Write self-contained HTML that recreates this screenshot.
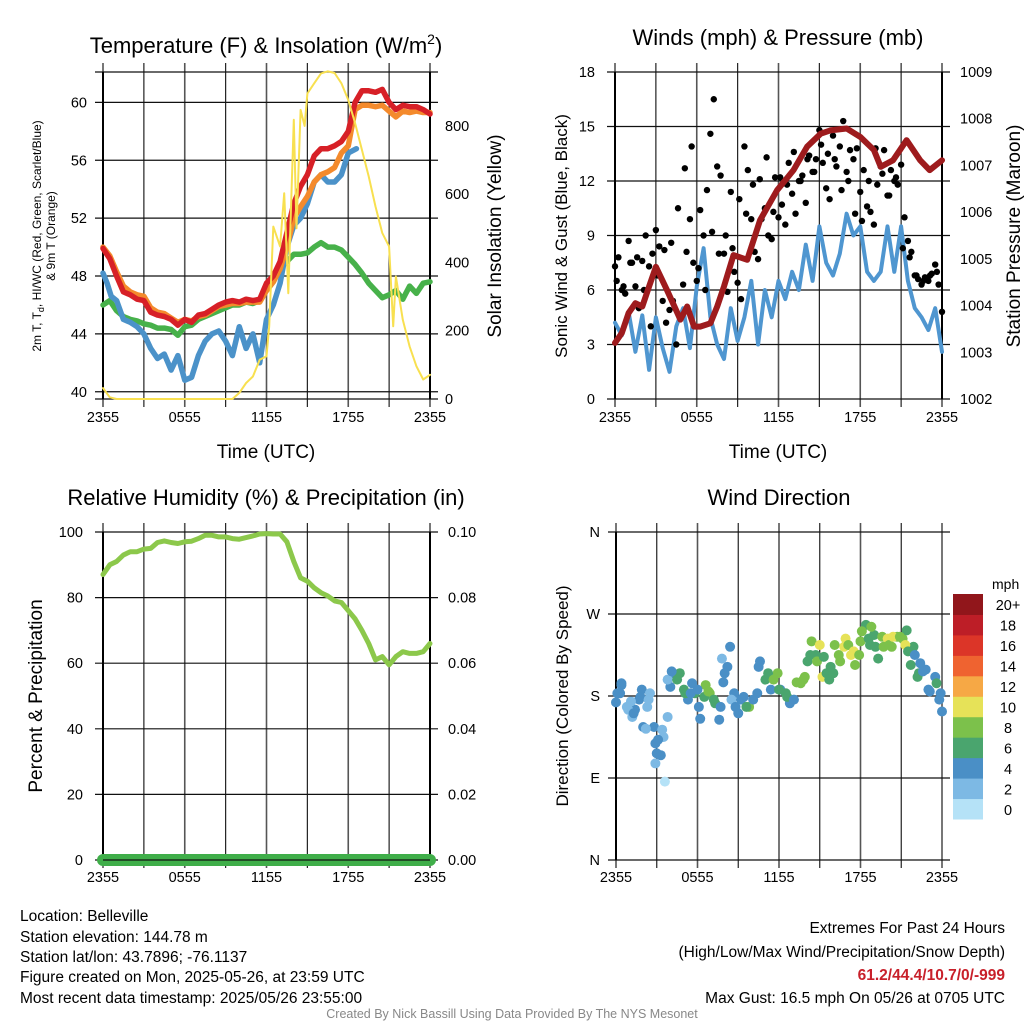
<!DOCTYPE html>
<html><head><meta charset="utf-8"><style>
html,body{margin:0;padding:0;background:#fff;}
svg{display:block;font-family:"Liberation Sans",Arial,sans-serif;}
.n{font-family:"Liberation Sans Narrow","Liberation Sans",sans-serif;}
</style></head><body>
<svg id="s" xmlns="http://www.w3.org/2000/svg" width="1024" height="1024" viewBox="0 0 1024 1024">
<text x="266" y="53" font-size="22" text-anchor="middle">Temperature (F) &amp; Insolation (W/m<tspan dy="-9" font-size="14">2</tspan><tspan dy="9">)</tspan></text>
<text x="778" y="45" font-size="22" text-anchor="middle">Winds (mph) &amp; Pressure (mb)</text>
<text x="266" y="505" font-size="22" text-anchor="middle">Relative Humidity (%) &amp; Precipitation (in)</text>
<text x="779" y="505" font-size="22" text-anchor="middle">Wind Direction</text>

<text transform="translate(41,236) rotate(-90)" font-size="12" text-anchor="middle">2m T, T<tspan dy="3" font-size="9">d</tspan><tspan dy="-3">, HI/WC (Red, Green, Scarlet/Blue)</tspan></text>
<text transform="translate(55,236) rotate(-90)" font-size="12" text-anchor="middle">&amp; 9m T (Orange)</text>
<text transform="translate(501,236) rotate(-90)" font-size="19" text-anchor="middle">Solar Insolation (Yellow)</text>
<text x="266" y="458" font-size="19" text-anchor="middle">Time (UTC)</text>
<text x="778" y="458" font-size="19" text-anchor="middle">Time (UTC)</text>
<text transform="translate(567,236) rotate(-90)" font-size="17" text-anchor="middle">Sonic Wind &amp; Gust (Blue, Black)</text>
<text transform="translate(1020,236) rotate(-90)" font-size="19" text-anchor="middle">Station Pressure (Maroon)</text>
<text transform="translate(42,696) rotate(-90)" font-size="19" text-anchor="middle">Percent &amp; Precipitation</text>
<text transform="translate(568,696) rotate(-90)" font-size="17" text-anchor="middle">Direction (Colored By Speed)</text>

<g class="n" font-size="15.5">
<text x="20" y="921">Location: Belleville</text>
<text x="20" y="942">Station elevation: 144.78 m</text>
<text x="20" y="962">Station lat/lon: 43.7896; -76.1137</text>
<text x="20" y="982">Figure created on Mon, 2025-05-26, at 23:59 UTC</text>
<text x="20" y="1003">Most recent data timestamp: 2025/05/26 23:55:00</text>
</g>
<g class="n" font-size="15.5" text-anchor="end">
<text x="1005" y="933">Extremes For Past 24 Hours</text>
<text x="1005" y="957">(High/Low/Max Wind/Precipitation/Snow Depth)</text>
<text x="1005" y="980" fill="#c8202a" font-weight="bold">61.2/44.4/10.7/0/-999</text>
<text x="1005" y="1003">Max Gust: 16.5 mph On 05/26 at 0705 UTC</text>
</g>
<text x="512" y="1018" class="n" font-size="12.5" fill="#888" text-anchor="middle">Created By Nick Bassill Using Data Provided By The NYS Mesonet</text>
</svg>
<script>
// ---- data ----
const xTickLabels=["2355","0555","1155","1755","2355"];
const halfHours=[0,0.5,1,1.5,2,2.5,3,3.5,4,4.5,5,5.5,6,6.5,7,7.5,8,8.5,9,9.5,10,10.5,11,11.5,12,12.5,13,13.5,14,14.5,15,15.5,16,16.5,17,17.5,18,18.5,19,19.5,20,20.5,21,21.5,22,22.5,23,23.5,24];
const tempRed=[49.9,49.2,48.0,46.9,46.7,46.4,46.3,45.5,45.3,45.2,45.0,44.6,45.0,44.8,45.3,45.4,45.7,46.0,46.2,46.3,46.2,46.4,46.3,46.4,47.5,48.0,49.0,51.0,53.0,54.2,55.0,56.3,56.8,56.8,57.0,57.3,58.0,60.0,60.8,60.8,60.7,60.9,60.0,59.5,59.8,59.7,59.7,59.5,59.2];
const tempOrange=[50.0,49.4,48.3,47.3,46.9,46.7,46.6,45.8,45.5,45.4,45.1,44.8,45.0,44.9,45.2,45.3,45.6,45.9,46.0,46.1,46.1,46.2,46.2,46.2,47.0,47.6,48.5,50.0,52.0,52.8,53.5,54.5,55.0,55.2,55.5,56.5,57.0,59.5,59.8,59.8,59.7,59.8,59.4,59.0,59.4,59.3,59.4,59.3,59.3];
const tempGreen=[46.0,46.3,45.6,45.2,45.0,44.9,44.7,44.6,44.4,44.4,44.3,43.9,44.5,44.6,45.0,45.2,45.4,45.6,45.8,46.0,46.0,46.2,46.1,46.3,47.0,47.6,48.5,49.0,49.5,49.5,49.6,50.0,50.3,50.0,50.0,49.8,49.3,48.8,48.2,47.5,47.0,46.5,46.7,47.0,46.4,47.3,46.8,47.5,47.6];
const blueTimes=[0,0.3,0.6,1,1.5,2,2.5,3,3.5,4,4.5,5,5.5,6,6.5,7,7.5,8,8.5,9,9.5,10,10.5,11,11.5,12,12.5,13,13.5,14,14.5,15,15.5,16,16.5,17,17.5,18,18.6];
const tempBlue=[48.2,47.5,46.6,46.3,45.0,44.8,44.5,44.0,43.0,42.3,42.6,41.5,42.5,40.8,41.0,42.5,43.5,44.0,44.2,43.5,42.5,44.5,43.0,44.0,42.0,45.0,46.0,47.5,50.0,51.5,52.0,53.0,54.5,55.0,54.5,54.5,55.0,56.5,56.8];
const solarTimes=[0,0.5,1,3,6,9,9.5,10,10.5,11,11.5,12,12.2,12.5,13,13.3,13.6,14,14.2,14.5,14.8,15,15.5,16,16.5,17,17.5,18,18.5,19,19.5,20,20.5,21,21.3,21.5,22,22.5,23,23.5,24];
const solarVals=[32,5,0,0,0,0,0,18,47,66,115,125,213,505,447,603,310,818,500,847,800,895,925,954,960,955,925,876,808,730,652,564,486,447,213,359,232,154,96,57,71];
const tempTicks=[40,44,48,52,56,60];
const solarTicks=[0,200,400,600,800];
const windVals=[4.2,3.5,4.8,2.6,4.6,1.6,4.5,2.8,1.5,4.0,5.0,2.8,6.2,8.3,4.5,3.0,2.2,5.0,3.2,4.5,6.5,3.0,6.0,4.5,6.5,5.5,7.0,6.0,8.5,6.5,9.5,7.5,6.8,8.0,10.2,9.0,9.5,7.0,6.5,7.0,9.5,7.0,9.5,6.5,5.0,4.5,3.8,5.0,2.6];
const gustVals=[7.3,7.8,6.0,5.8,8.7,7.5,6.2,5.0,7.6,9.0,7.3,8.0,9.3,8.4,5.4,4.2,4.9,5.4,3.0,4.5,6.3,8.1,9.9,7.5,6.5,10.4,9.0,11.5,14.6,16.5,12.8,12.3,8.0,5.9,11.4,7.0,6.4,5.5,13.9,12.6,9.9,8.1,7.7,9.9,10.5,9.0,8.8,12.2,10.0,10.7,9.6,13.0,11.3,10.2,12.0,12.3,10.8,13.4,12.5,13.2,14.8,13.0,11.6,11.0,14.5,12.8,13.9,15.3,12.5,13.7,13.2,13.8,11.4,12.6,10.6,10.3,9.6,11.8,12.8,13.7,11.2,12.6,12.0,11.8,12.9,10.0,8.7,8.1,6.8,6.6,6.3,6.7,6.5,6.9,7.4,6.3,4.8];
const gustVals2=[6.5,6.2,7.5,7.8,6.0,4.0,6.8,8.2,8.6,10.5,12.7,13.9,7.2,6.0,9.2,8.0,9.0,8.3,11.0,10.2,11.8,12.1,13.3,10.3,12.2,11.8,13.6,12.0,13.2,12.5,14.0,13.5,13.2,11.5,12.0,10.2,9.8,12.0,13.8,12.4,11.2,12.2,8.3,7.8,6.8,6.5,6.8,7.0];
const pressTimes=[0,0.5,1,1.5,2,2.5,3,3.8,4.8,5.3,5.8,6.25,7,7.5,8,8.7,9.7,10.65,11.9,12.6,13.1,14.1,15.1,15.8,17.0,18.0,19.0,19.5,20.4,21.4,22.4,23.1,24];
const pressVals=[1003.20,1003.41,1003.84,1004.05,1003.98,1004.41,1004.83,1004.34,1003.70,1003.98,1003.55,1003.55,1003.62,1003.98,1004.41,1005.08,1004.98,1005.83,1006.47,1006.72,1006.90,1007.40,1007.68,1007.75,1007.79,1007.61,1007.33,1006.97,1007.11,1007.54,1007.11,1006.90,1007.11];
const windTicks=[0,3,6,9,12,15,18];
const pressTicks=[1002,1003,1004,1005,1006,1007,1008,1009];
const rhVals=[87,90,91,93,94,94,94.8,95,96.8,97.3,96.8,96.5,97,97.2,98,99,99,98.5,98.5,98,97.8,98.3,98.8,99.4,99.5,99.4,99.4,97,91,86,85,83,81.5,80.5,79,78.5,76,73.5,70,66,61,62,59.5,62,63.5,63,63,63.5,66];
const precipVals=[0,0];
const rhTicks=[0,20,40,60,80,100];
const precipTicks=["0.00","0.02","0.04","0.06","0.08","0.10"];
const dirTimes=[0,0.3,0.4,0.8,1.2,1.4,1.7,1.9,2.3,2.5,2.0,2.8,2.9,3.0,2.9,3.3,3.5,3.6,3.8,4.0,4.2,4.7,5.0,5.3,5.6,5.8,6.1,6.2,6.6,6.9,7.3,7.6,7.8,7.9,8.2,8.4,8.7,9.0,9.4,9.8,10.1,10.5,11.0,11.4,11.9,12.1,12.5,12.8,13.3,13.8,14.1,14.4,14.7,15.0,15.2,15.5,15.8,16.1,16.5,16.9,17.3,17.6,18.0,18.4,18.7,19.0,19.3,19.6,20.0,20.3,20.7,21.1,21.4,21.7,21.9,22.2,22.4,22.8,23.0,23.5,23.9,24.0,
0.1,0.4,0.9,1.1,1.3,1.8,2.4,2.2,3.4,3.1,3.8,4.1,4.5,5.1,5.5,6.0,6.5,6.8,7.2,7.7,8.0,8.5,8.8,9.2,9.6,10.4,10.6,11.2,11.6,12.0,12.6,13.1,13.6,13.9,14.3,14.8,15.3,15.7,16.0,16.4,16.8,17.1,17.5,17.9,18.1,18.6,18.8,19.1,19.7,20.1,20.4,20.9,21.3,21.5,22.0,22.3,22.6,23.1,23.6,23.8];
const dirVals=[173,183,194,168,157,165,176,187,168,183,146,146,128,117,106,115,135,86,157,190,205,205,187,176,194,183,168,155,192,183,172,154,221,195,212,234,183,161,179,168,176,212,198,187,205,187,183,172,195,198,218,240,225,236,201,205,212,236,218,243,225,214,240,258,236,247,221,245,243,234,245,243,252,214,234,201,216,209,187,201,183,163,
183,192,165,174,161,179,176,144,143,132,198,207,198,183,183,187,179,185,176,168,205,176,168,176,168,183,218,205,198,187,179,176,194,201,225,218,223,198,205,225,234,236,229,225,251,243,256,234,234,236,245,245,236,229,225,205,207,185,194,176];
const dirSpeeds=[5,5,5,3,3,5,5,5,3,3,5,5,5,5,3,5,3,1,3,5,5,7,7,5,5,7,5,5,9,9,7,5,3,5,5,5,5,5,5,9,5,5,7,5,9,5,7,5,9,9,7,9,7,11,11,7,7,9,9,11,11,9,9,7,7,7,7,9,11,9,9,9,7,7,7,7,5,5,5,5,5,5,
5,5,3,3,5,5,3,3,3,5,3,5,7,7,5,5,7,9,7,5,5,3,5,5,7,5,5,7,9,7,7,5,9,9,7,9,7,7,7,9,11,9,11,9,9,7,9,7,9,9,11,9,11,7,5,7,5,5,7,5];
const dirTickLabels=["N","E","S","W","N"];
const speedBinLabels=["0","2","4","6","8","10","12","14","16","18","20+"];
const speedBinColors=["#b5e2f7","#7db9e4","#4a8fc6","#4aa56e","#7cc14b","#e6e258","#f6a845","#ef6330","#dc3528","#bd1e27","#91161b"];

// ---- drawing ----
const svg=document.getElementById('s');
const NS='http://www.w3.org/2000/svg';
function mk(tag,attrs,parent){const e=document.createElementNS(NS,tag);for(const k in attrs)e.setAttribute(k,attrs[k]);(parent||svg).appendChild(e);return e;}
function lin(d0,d1,r0,r1){return v=>r0+(v-d0)/(d1-d0)*(r1-r0);}

function frame(x0,x1,y0,y1,name){
  const g=mk('g',{});
  
  
  for(let i=0;i<=8;i++){
    const x=x0+i*(x1-x0)/8;
    const l=mk('line',{x1:x,x2:x,y1:y0-9,y2:y1+8,stroke:i%2?'#222':'#555','stroke-width':i%2?1.2:1.6},g);
    
    
  }
  return g;
}
function xLabels(x0,x1,y,name){
  xTickLabels.forEach((t,i)=>{
    const e=mk('text',{x:x0+i*(x1-x0)/4,y:y,'font-size':14.5,'text-anchor':'middle'});
    e.textContent=t;
    
    
  });
}
function hLine(x0,x1,y,w){return mk('line',{x1:x0-8,x2:x1+8,y1:y,y2:y,stroke:'#111','stroke-width':w||1.2});}
function poly(xs,ys,fx,fy,color,w,name){
  const pts=xs.map((t,i)=>fx(t).toFixed(1)+','+fy(ys[i]).toFixed(1)).join(' ');
  const p=mk('polyline',{points:pts,fill:'none',stroke:color,'stroke-width':w,'stroke-linejoin':'round','stroke-linecap':'round'});
  
  
  return p;
}

// Panel 1
(function(){
  const x0=103,x1=430,y0=72,y1=399;
  const fx=lin(0,24,x0,x1), fy=lin(39.5,62.1,y1,y0), fs=lin(0,958,y1,y0);
  frame(x0,x1,y0,y1,'temperature');
  tempTicks.forEach(v=>{hLine(x0,x1,fy(v));const t=mk('text',{x:x0-16,y:fy(v)+5,'font-size':14.5,'text-anchor':'end'});t.textContent=v;
    });
  solarTicks.forEach(v=>{const t=mk('text',{x:x1+15,y:fs(v)+5,'font-size':14.5});t.textContent=v;
    });
  hLine(x0,x1,y0);hLine(x0,x1,y1);
  mk('line',{x1:x0,x2:x0,y1:y0,y2:y1,stroke:'#000','stroke-width':2});
  mk('line',{x1:x1,x2:x1,y1:y0,y2:y1,stroke:'#000','stroke-width':2});
  poly(halfHours,tempGreen,fx,fy,'#47b14a',5.5,'dewpoint-line');
  poly(blueTimes,tempBlue,fx,fy,'#4b92c9',5.5,'windchill-line');
  poly(halfHours,tempOrange,fx,fy,'#f48a2c',5.5,'9m-temp-line');
  poly(halfHours,tempRed,fx,fy,'#d72027',5.5,'2m-temp-line');
  poly(solarTimes,solarVals,fx,fs,'#f8e050',2,'solar-line');
  xLabels(x0,x1,422,'temp');
})();

// Panel 2
(function(){
  const x0=615,x1=942,y0=72,y1=399;
  const fx=lin(0,24,x0,x1), fy=lin(0,18,y1,y0), fp=lin(1002,1009,y1,y0);
  frame(x0,x1,y0,y1,'wind');
  windTicks.forEach(v=>{hLine(x0,x1,fy(v));const t=mk('text',{x:x0-20,y:fy(v)+5,'font-size':14.5,'text-anchor':'end'});t.textContent=v;
    });
  pressTicks.forEach(v=>{const t=mk('text',{x:x1+18,y:fp(v)+5,'font-size':14.5});t.textContent=v;
    });
  mk('line',{x1:x0,x2:x0,y1:y0,y2:y1,stroke:'#000','stroke-width':2});
  mk('line',{x1:x1,x2:x1,y1:y0,y2:y1,stroke:'#000','stroke-width':2});
  poly(halfHours,windVals,fx,fy,'#4f96d0',4,'sonic-wind-line');
  const g=mk('g',{});
  
  
  gustVals.forEach((v,i)=>{const c=mk('circle',{cx:fx(i*0.25),cy:fy(v),r:3.2,fill:'#000'},g);
    });
  gustVals2.forEach((v,i)=>{const c=mk('circle',{cx:fx(0.125+i*0.5),cy:fy(v),r:3.2,fill:'#000'},g);
    });
  poly(pressTimes,pressVals,fx,fp,'#9e1b1d',6,'pressure-line');
  xLabels(x0,x1,422,'wind');
})();

// Panel 3
(function(){
  const x0=103,x1=430,y0=532,y1=860;
  const fx=lin(0,24,x0,x1), fy=lin(0,100,y1,y0), fpr=lin(0,0.1,y1,y0);
  frame(x0,x1,y0,y1,'humidity');
  rhTicks.forEach((v,i)=>{hLine(x0,x1,fy(v));const t=mk('text',{x:x0-20,y:fy(v)+5,'font-size':14.5,'text-anchor':'end'});t.textContent=v;
    
    const r=mk('text',{x:x1+18,y:fy(v)+5,'font-size':14.5});r.textContent=precipTicks[i];
    });
  mk('line',{x1:x0,x2:x0,y1:y0,y2:y1,stroke:'#000','stroke-width':2});
  mk('line',{x1:x1,x2:x1,y1:y0,y2:y1,stroke:'#000','stroke-width':2});
  poly(halfHours,rhVals,fx,fy,'#8cc84b',5,'humidity-line');
  poly([0,24],precipVals,fx,fpr,'#3fae49',12,'precip-line');
  mk('line',{x1:x0,x2:x1,y1:y1,y2:y1,stroke:'#111','stroke-width':1.2});
  xLabels(x0,x1,882,'humidity');
})();

// Panel 4
(function(){
  const x0=616,x1=942,y0=532,y1=860;
  const fx=lin(0,24,x0,x1), fy=lin(0,360,y1,y0);
  frame(x0,x1,y0,y1,'direction');
  dirTickLabels.forEach((l,i)=>{const v=i*90;hLine(x0,x1,fy(v));const t=mk('text',{x:x0-16,y:fy(v)+5,'font-size':14.5,'text-anchor':'end'});t.textContent=l;
    });
  mk('line',{x1:x0,x2:x0,y1:y0,y2:y1,stroke:'#000','stroke-width':2});
  const g=mk('g',{});
  
  
  dirVals.forEach((v,i)=>{const b=Math.min(10,Math.floor(dirSpeeds[i]/2));
    const c=mk('circle',{cx:fx(dirTimes[i]),cy:fy(v),r:5,fill:speedBinColors[b]},g);
    });
  xLabels(x0,x1,882,'direction');
  const lg=mk('g',{});
  
  
  const ut=mk('text',{x:992,y:589,'font-size':14,'text-anchor':'start'},lg);ut.textContent='mph';
  
  const h=225/11;
  speedBinColors.forEach((c,i)=>{const y=594+(10-i)*h;
    const r=mk('rect',{x:953,y:y,width:30,height:h+0.5,fill:c},lg);
    
    const t=mk('text',{x:1008,y:y+h/2+6,'font-size':14.5,'text-anchor':'middle'},lg);t.textContent=speedBinLabels[i];
    });
})();
</script>
</body></html>
